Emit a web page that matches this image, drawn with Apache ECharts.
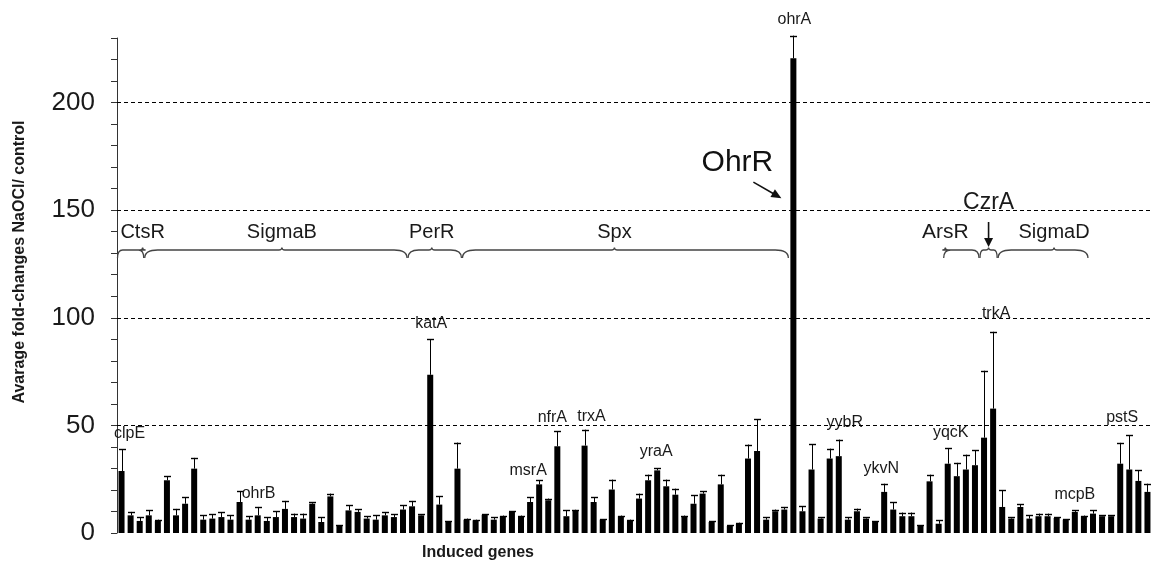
<!DOCTYPE html>
<html>
<head>
<meta charset="utf-8">
<script src="https://cdn.jsdelivr.net/npm/echarts@6/dist/echarts.min.js"></script>
<style>html,body{margin:0;padding:0;background:#fff}#c{width:1152px;height:561px}</style>
</head>
<body>
<div id="c"></div>
<script>
// ---------------- data ----------------
const values = [
  28.8, 8.2, 5.6, 8.2, 5.6, 24.5, 8.2, 13.6, 29.9, 6.2,
  6.7, 7.4, 6.2, 14.4, 6.2, 8.2, 5.6, 7.4, 11.2, 7.4,
  6.7, 13.6, 5.1, 17.0, 3.3, 10.5, 9.8, 6.7, 6.2, 8.2,
  7.4, 10.9, 12.4, 8.2, 73.5, 13.2, 5.1, 29.9, 6.2, 5.9,
  8.5, 6.2, 7.8, 9.8, 7.8, 14.4, 22.6, 15.2, 40.3, 7.8,
  10.5, 40.6, 14.4, 6.2, 20.2, 7.8, 5.9, 16.0, 24.5, 29.1,
  21.7, 17.8, 7.8, 13.6, 18.3, 5.1, 22.6, 3.3, 4.3, 34.6,
  38.1, 6.2, 10.1, 10.9, 220.6, 10.1, 29.5, 6.7, 34.6, 35.7,
  6.2, 10.1, 6.7, 5.1, 19.1, 10.9, 7.8, 7.8, 3.3, 24.0,
  4.3, 32.2, 26.4, 29.5, 31.5, 44.3, 57.8, 12.1, 6.7, 12.1,
  6.7, 7.8, 7.8, 7.0, 6.2, 9.8, 7.8, 9.0, 7.8, 7.8,
  32.2, 29.5, 24.2, 19.1
];
const errors = [
  10.0, 1.6, 1.8, 2.3, 0.6, 1.9, 3.0, 3.1, 5.0, 2.0,
  2.0, 2.2, 2.0, 5.0, 1.6, 3.9, 1.8, 2.7, 3.7, 1.6,
  2.3, 0.8, 2.3, 1.3, 0.3, 2.4, 1.2, 1.1, 2.0, 1.4,
  1.3, 2.0, 2.5, 0.4, 16.5, 3.8, 0.3, 12.1, 0.5, 0.3,
  0.3, 1.2, 0.3, 0.3, 0.3, 2.3, 1.9, 0.8, 7.0, 2.7,
  0.3, 7.4, 2.3, 0.3, 4.6, 0.3, 0.3, 2.3, 2.6, 1.1,
  3.1, 2.8, 0.3, 3.9, 1.1, 0.3, 4.5, 0.3, 0.5, 6.5,
  14.8, 1.2, 0.8, 1.2, 10.5, 2.3, 11.7, 0.7, 4.6, 7.7,
  1.2, 1.2, 0.7, 0.3, 3.8, 3.5, 1.7, 1.7, 0.3, 3.1,
  1.6, 7.3, 6.2, 6.9, 6.9, 31.1, 35.7, 7.7, 0.7, 1.2,
  1.5, 1.2, 1.2, 0.4, 0.3, 0.7, 0.3, 1.5, 0.4, 0.4,
  9.7, 15.9, 4.9, 3.8
];
const categories = values.map((_, i) => String(i + 1));

const geneLabelBars  = [0, 13, 34, 46, 48, 51, 58, 74, 79, 84, 91, 96, 105, 110];
const geneLabelNames = ['clpE','ohrB','katA','msrA','nfrA','trxA','yraA','ohrA','yybR','ykvN','yqcK','trkA','mcpB','pstS'];

const groupNames = ['CtsR','SigmaB','PerR','Spx','ArsR','CzrA','SigmaD'];
const groupStart = [0, 3, 32, 38, 91, 95, 97];
const groupEnd   = [2, 31, 37, 73, 94, 96, 106];

const regulatorName = 'OhrR';
const regulatorBar = 74;

const gridLevels = [50, 100, 150, 200];
const yMax = 230;
const yTickStep = 10;
const yLabelStep = 50;

// ---------------- layout (pixels) ----------------
const FONT = '"Liberation Sans", Arial, Helvetica, sans-serif';
const geneLabelOffset = {
  clpE:[8,-16], ohrB:[19,2], katA:[1,-16], msrA:[-11,-10], nfrA:[-5,-14], trxA:[7,-13],
  yraA:[8,-23], ohrA:[1,-16], yybR:[6,-17], ykvN:[-3,-15], yqcK:[3,-15], trkA:[3,-18],
  mcpB:[0,-16], pstS:[2,-25]
};
const braceLevel = 131.5;
const groupLayout = {
  CtsR:{dx:12, size:20}, SigmaB:{dx:6, size:20}, PerR:{dx:-3, size:20}, Spx:{dx:-11, size:20},
  ArsR:{dx:-16, size:21}, CzrA:{dx:0, size:23, dy:-47, arrow:true}, SigmaD:{dx:11, size:20}
};

function arrowShapes(ax, ay, bx, by, head, half) {
  const dx = bx - ax, dy = by - ay, L = Math.hypot(dx, dy);
  const ux = dx / L, uy = dy / L, nx = -uy, ny = ux;
  const hx = bx - ux * head, hy = by - uy * head;
  return [
    {type:'line', shape:{x1:ax, y1:ay, x2:bx - ux*head*0.6, y2:by - uy*head*0.6}, style:{stroke:'#111', lineWidth:1.6}},
    {type:'polygon', shape:{points:[[bx,by],[hx+nx*half,hy+ny*half],[hx-nx*half,hy-ny*half]]}, style:{fill:'#111'}}
  ];
}

const chart = echarts.init(document.getElementById('c'), null, {renderer:'canvas'});
chart.setOption({
  animation: false,
  backgroundColor: '#fff',
  grid: {left: 117, top: 38, width: 1037, bottom: 28, containLabel: false},
  xAxis: {
    type: 'category', data: categories,
    axisLine: {show: false}, axisTick: {show: false}, axisLabel: {show: false}, splitLine: {show: false}
  },
  yAxis: {
    type: 'value', min: 0, max: yMax, interval: yTickStep,
    name: 'Avarage fold-changes NaOCl/ control',
    nameLocation: 'middle', nameGap: 89,
    nameTextStyle: {fontFamily: FONT, fontWeight: 'bold', fontSize: 16, color: '#1a1a1a', padding: [0, 0, 0, 47]},
    axisLine: {show: true, lineStyle: {color: '#333', width: 1}},
    axisTick: {show: true, length: 6, lineStyle: {color: '#333', width: 1}},
    axisLabel: {
      fontFamily: FONT, fontSize: 26, color: '#1a1a1a', margin: 22,
      formatter: v => (v % yLabelStep === 0 ? String(v) : '')
    },
    splitLine: {show: false}
  },
  graphic: [
    {type:'text', x: 478, y: 553, style:{text:'Induced genes', font:'bold 16px ' + FONT, fill:'#1a1a1a', align:'center', verticalAlign:'middle'}}
  ],
  series: [
    {
      type: 'bar', data: values, barWidth: 6, itemStyle: {color: '#000'}, z: 2,
      markLine: {
        silent: true, symbol: ['none','none'], label: {show: false},
        lineStyle: {color: '#000', type: [4,3], width: 1},
        data: gridLevels.map(v => ({yAxis: v}))
      }
    },
    {
      type: 'custom', name: 'err', z: 3,
      data: values.map((v, i) => [i, v, errors[i]]),
      encode: {x: 0, y: 1},
      renderItem: (params, api) => {
        const i = api.value(0), v = api.value(1), e = api.value(2);
        const p0 = api.coord([i, v]), p1 = api.coord([i, v + e]);
        const x = Math.round(p0[0]) + 0.5;
        const cap = 7;
        return {type:'group', children:[
          {type:'line', shape:{x1:x, y1:p0[1], x2:x, y2:p1[1]}, style:{stroke:'#000', lineWidth:1}},
          {type:'line', shape:{x1:x-cap/2, y1:Math.round(p1[1])+0.5, x2:x+cap/2, y2:Math.round(p1[1])+0.5}, style:{stroke:'#000', lineWidth:1.4}}
        ]};
      }
    },
    {
      type: 'custom', name: 'geneLabels', z: 4,
      data: geneLabelBars.map((b, k) => [b, values[b] + errors[b], k]),
      encode: {x: 0, y: 1},
      renderItem: (params, api) => {
        const p = api.coord([api.value(0), api.value(1)]);
        const name = geneLabelNames[api.value(2)];
        const off = geneLabelOffset[name] || [0, -16];
        return {type:'text', x: p[0] + off[0], y: p[1] + off[1],
          style:{text: name, font: '16px ' + FONT, fill:'#1a1a1a', align:'center', verticalAlign:'middle'}};
      }
    },
    {
      type: 'custom', name: 'groups', z: 4,
      data: groupNames.map((n, k) => [groupStart[k], groupEnd[k], braceLevel, k]),
      encode: {x: [0, 1], y: 2},
      renderItem: (params, api) => {
        const s = api.value(0), e = api.value(1), k = api.value(3);
        const name = groupNames[k];
        const lay = groupLayout[name];
        const band = api.size([1, 0])[0];
        const ps = api.coord([s, api.value(2)]), pe = api.coord([e, api.value(2)]);
        const x1 = ps[0] - band / 2 + 0.5, x2 = pe[0] + band / 2 - 0.5, y = ps[1];
        const yEnd = y + 8;
        const r = Math.min(13, (x2 - x1) / 5);
        const xm = (x1 + x2) / 2 + lay.dx;
        const path = 'M' + x1 + ' ' + yEnd + ' Q' + x1 + ' ' + y + ' ' + (x1 + r) + ' ' + y +
          ' L' + (xm - 3) + ' ' + y + ' Q' + xm + ' ' + y + ' ' + xm + ' ' + (y - 2.5) +
          ' Q' + xm + ' ' + y + ' ' + (xm + 3) + ' ' + y +
          ' L' + (x2 - r) + ' ' + y + ' Q' + x2 + ' ' + y + ' ' + x2 + ' ' + yEnd;
        const children = [
          {type:'path', shape:{pathData: path}, style:{stroke:'#444', lineWidth:1.3, fill:null}},
          {type:'text', x: xm, y: y + (lay.dy || -18),
            style:{text: name, font: lay.size + 'px ' + FONT, fill:'#1a1a1a', align:'center', verticalAlign:'middle'}}
        ];
        if (lay.arrow) {
          children.push(...arrowShapes(xm, y - 28, xm, y - 3, 9, 4.5));
        }
        return {type:'group', children};
      }
    },
    {
      type: 'custom', name: 'regulator', z: 4,
      data: [[regulatorBar, 150]],
      encode: {x: 0, y: 1},
      renderItem: (params, api) => {
        const p = api.coord([api.value(0), api.value(1)]);
        return {type:'group', children:[
          {type:'text', x: p[0] - 56, y: p[1] - 47,
            style:{text: regulatorName, font: '30px ' + FONT, fill:'#111', align:'center', verticalAlign:'middle'}},
          ...arrowShapes(p[0] - 40, p[1] - 28, p[0] - 12, p[1] - 12, 10, 4.5)
        ]};
      }
    }
  ]
});
</script>
</body>
</html>
